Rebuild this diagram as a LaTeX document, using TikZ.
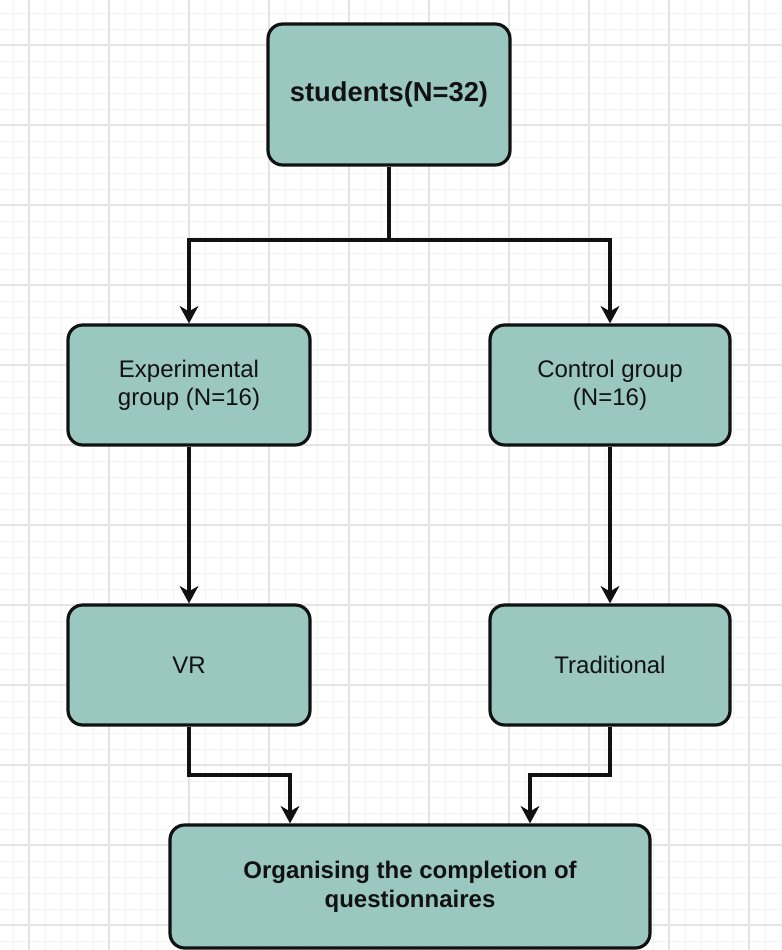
\documentclass[tikz,border=0pt]{standalone}
\usepackage{fontspec}
\setmainfont{Liberation Sans}
\usetikzlibrary{arrows.meta, positioning, shapes}
\usepackage{xcolor}
\definecolor{boxfill}{HTML}{9AC7BF}
\definecolor{gridmajor}{HTML}{E4E4E4}
\definecolor{gridminor}{HTML}{F4F4F4}
\definecolor{inkblack}{HTML}{111111}

\tikzset{
  stagebox/.style={draw=inkblack, fill=boxfill, line width=2.4pt,
    rounded corners=11pt, minimum width=181.5pt, minimum height=90pt,
    align=center, font=\fontsize{18}{21}\selectfont, text=inkblack},
  link/.style={draw=inkblack, line width=2.4pt,
    -{Stealth[length=13pt,width=14pt,inset=4pt]}},
  minorgrid/.style={draw=gridminor, line width=0.75pt},
  majorgrid/.style={draw=gridmajor, line width=0.9pt}
}

\begin{document}
\begin{tikzpicture}[x=0.75pt, y=-0.75pt]
        \useasboundingbox (0,0) rectangle (782,950);
        \fill[white] (0,0) rectangle (782,950);
        % background grid
        \foreach \gx in {13,29,...,781} \draw[minorgrid] (\gx,0) -- (\gx,950);
        \foreach \gy in {13,29,...,949} \draw[minorgrid] (0,\gy) -- (782,\gy);
        \foreach \gx in {29,109,...,781} \draw[majorgrid] (\gx,0) -- (\gx,950);
        \foreach \gy in {45,125,...,949} \draw[majorgrid] (0,\gy) -- (782,\gy);

        % boxes
        \node[stagebox, minimum height=105.75pt, font=\fontsize{20.5}{24}\selectfont\bfseries]
          (students) at (389,94.5) {students(N=32)};
        \node[stagebox] (expgroup) at (189,385) {Experimental\\group (N=16)};
        \node[stagebox, minimum width=180pt] (ctrlgroup) at (610,385) {Control group\\(N=16)};
        \node[stagebox] (vr) at (189,665) {VR};
        \node[stagebox, minimum width=180pt] (trad) at (610,665) {Traditional};
        \node[stagebox, minimum width=360pt, minimum height=92.25pt, font=\fontsize{18}{22}\selectfont\bfseries]
          (final) at (410,886.5) {Organising the completion of\\questionnaires};

        % connectors
        \coordinate (fork) at (389,240);
        \coordinate (vrin) at (290,775);
        \coordinate (tradin) at (530,775);
        \draw[link] (students.south) -- (fork) -| (expgroup.north);
        \draw[link] (fork) -| (ctrlgroup.north);
        \draw[link] (expgroup) -- (vr);
        \draw[link] (ctrlgroup) -- (trad);
        \draw[link] (vr.south) |- (vrin) -- (vrin |- final.north);
        \draw[link] (trad.south) |- (tradin) -- (tradin |- final.north);
      \end{tikzpicture}
\end{document}
